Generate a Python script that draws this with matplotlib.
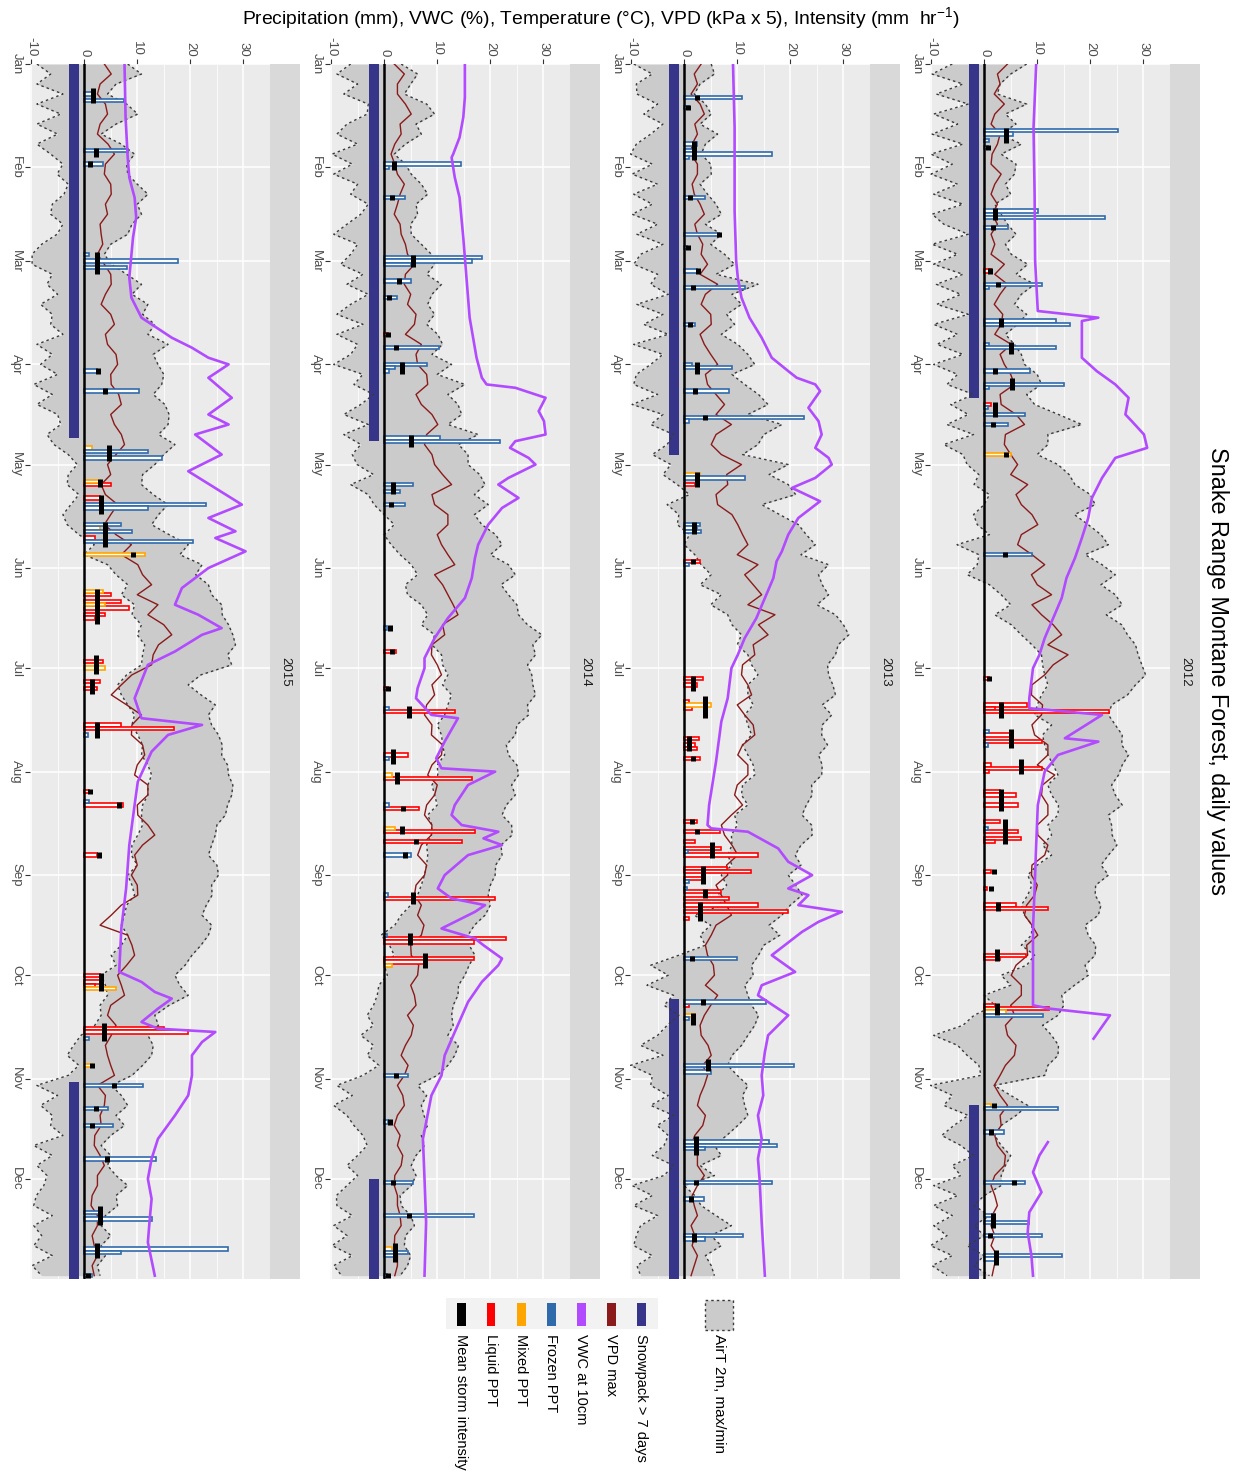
import numpy as np
import matplotlib
matplotlib.use("Agg")
import matplotlib.pyplot as plt
from matplotlib.patches import Rectangle

plt.rcParams['font.family'] = ['Liberation Sans', 'DejaVu Sans']
plt.rcParams['mathtext.fontset'] = 'custom'
plt.rcParams['mathtext.rm'] = 'Liberation Sans'
plt.rcParams['mathtext.it'] = 'Liberation Sans'
plt.rcParams['mathtext.bf'] = 'Liberation Sans'

# ---------------------------------------------------------------- data
YEARS = [2012, 2013, 2014, 2015]
MONTHS = ['Jan', 'Feb', 'Mar', 'Apr', 'May', 'Jun',
          'Jul', 'Aug', 'Sep', 'Oct', 'Nov', 'Dec']
MONTH_START = [1, 32, 60, 91, 121, 152, 182, 213, 244, 274, 305, 335]
VALUE_TICKS = [-10, 0, 10, 20, 30]

# sample days (day of year) for air temperature and VPD
TDAYS = list(range(1, 365, 3))

# --- 2012  (one line per month)
TMIN_2012 = [-6.0, -9.8, -4.0, -9.0, -3.0, -9.5, -5.0, -9.8, -4.0, -10.0, -6.0,
             -10.0, -5.0, -9.5, -4.0, -9.8, -7.6, -3.0, -9.8, -5.0,
             -9.5, -4.0, -9.0, -4.4, -8.9, -3.0, -9.5, -5.0, -8.9, -4.0,
             -9.5, -5.0, -7.0, -2.0, -6.3, -3.0, -7.0, -2.0, -7.6, -4.0,
             -3.2, -1.0, -1.9, 1.0, 0.0, -2.0, -1.3, 1.0, -5.1, -1.0, -1.3,
             -3.2, 1.0, 3.2, 5.0, 2.0, 5.1, 7.0, 9.0, 10.8, 11.0,
             11.4, 12.0, 10.8, 10.0, 9.5, 12.7, 11.0, 11.4, 12.0, 13.0,
             13.9, 12.0, 12.7, 14.0, 13.9, 12.0, 12.7, 11.0, 12.7, 10.0,
             8.2, 9.0, 8.2, 7.0, 7.6, 9.0, 8.9, 7.0, 9.5, 8.0,
             3.2, 5.0, 0.0, 2.0, -1.9, -4.0, -9.5, -5.0, -3.2, -1.0, -0.6,
             -10.1, -6.0, -7.6, -3.0, -5.7, -8.0, -4.4, -2.0, -6.0, -4.4,
             -9.5, -5.0, -9.5, -6.0, -9.5, -7.0, -10.1, -6.0, -9.8, -7.0]
TMAX_2012 = [8.0, 5.0, 3.0, 2.5, 8.0, 4.0, 6.0, 3.0, 7.0, 3.2, 6.0,
             5.7, 4.0, 5.0, 2.0, 3.2, 4.4, 6.0, 4.0, 5.1,
             8.2, 6.0, 9.5, 7.0, 5.7, 8.0, 6.3, 4.0, 5.7, 7.0,
             7.6, 10.0, 10.8, 8.0, 9.5, 14.0, 18.4, 12.0, 12.0, 10.0,
             13.9, 16.0, 17.1, 20.0, 20.9, 17.0, 19.6, 22.0, 23.4, 19.0, 22.2,
             24.7, 22.0, 24.7, 26.0, 23.0, 25.9, 27.0, 28.5, 29.0, 29.7,
             30.4, 28.5, 27.0, 24.0, 23.4, 24.7, 26.0, 25.9, 27.2, 26.0,
             25.3, 24.0, 24.7, 26.0, 23.4, 24.0, 24.1, 25.0, 23.4, 22.0,
             23.4, 21.0, 20.9, 22.0, 21.5, 19.0, 19.6, 21.0, 20.9, 19.0,
             19.6, 17.0, 14.6, 15.0, 13.9, 11.0, 12.7, 14.0, 13.9, 12.0, 11.4,
             1.9, 5.0, 8.2, 6.0, 3.2, 2.0, 3.2, 5.0, 4.0, 3.2,
             3.2, 0.0, -1.9, 1.0, -1.9, 0.0, -3.2, 0.0, -1.9, 1.0]
VPD_2012 = [4.4, 2.5, 3.0, 1.9, 3.8, 2.0, 1.3, 3.0, 2.5, 1.5, 1.3,
            3.2, 2.0, 1.3, 2.5, 1.5, 2.5, 1.3, 2.0, 1.3,
            3.8, 2.0, 4.4, 3.0, 1.9, 3.5, 3.2, 2.0, 5.1, 3.0,
            3.8, 5.0, 5.7, 3.0, 3.2, 6.0, 7.6, 4.0, 3.8, 5.0,
            6.3, 5.0, 8.2, 6.0, 7.0, 9.0, 10.1, 7.0, 6.3, 9.0, 11.4,
            8.9, 10.0, 12.7, 9.0, 10.8, 13.0, 14.6, 12.0, 15.8, 13.0,
            11.4, 9.0, 8.9, 11.0, 10.8, 9.0, 9.5, 12.0, 12.0, 10.0,
            13.3, 11.0, 10.8, 12.0, 12.0, 10.0, 10.1, 12.0, 11.4, 9.0,
            8.9, 10.0, 9.5, 8.0, 7.6, 9.0, 10.1, 8.0, 8.2, 6.0,
            5.1, 7.0, 7.0, 5.0, 5.7, 4.0, 4.4, 6.0, 5.7, 4.0, 3.0,
            1.9, 3.0, 4.4, 3.0, 3.2, 2.0, 2.5, 4.0, 3.8, 2.0,
            1.3, 2.0, 2.5, 1.5, 1.3, 2.0, 1.3, 2.5, 1.9, 1.5]
VWC_DAY_2012 = [1, 20, 40, 60, 75, 77, 78, 89, 93, 97, 101, 106, 108, 112, 116, 119, 125, 131,
                137, 143, 149, 155, 161, 167, 173, 178, 182, 191, 194, 196, 203, 204, 208, 213,
                223, 235, 248, 260, 273, 283, 284, 286, 293, 300, 324, 328, 333, 339, 345, 351,
                358, 364]
VWC_2012 = [9.8, 9.3, 9.5, 9.6, 10.1, 21.5, 18.4, 18.4, 21.2, 24.7, 27.2, 26.6, 27.8, 30.1, 30.7,
            24.7, 22.2, 20.3, 19.6, 18.4, 17.1, 15.5, 14.6, 13.0, 11.4, 10.4, 9.2, 8.5, 8.5, 22.2,
            15.2, 21.5, 13.9, 11.4, 10.1, 9.8, 9.5, 9.2, 9.2, 9.2, 12.3, 23.7, 20.6, None, 12.0,
            10.4, 9.2, 10.8, 8.5, 8.2, 8.9, 9.2]
PPT_DAY_2012 = [21, 22, 24, 26, 45, 46, 47, 50, 63, 67, 68, 78, 79, 85, 86, 93, 97, 98, 103, 104,
                106, 109, 118, 148, 185, 193, 194, 195, 201, 202, 204, 205, 211, 212, 213, 219,
                220, 223, 228, 230, 231, 233, 234, 243, 248, 253, 254, 268, 269, 283, 284, 285,
                286, 313, 314, 321, 336, 346, 348, 352, 358, 359]
PPT_MM_2012 = [25.3, 5.4, 1.0, 0.8, 10.1, 2.0, 22.8, 4.4, 1.2, 10.8, 1.0, 13.5, 16.1, 1.0, 13.6,
               8.6, 15.0, 1.0, 1.2, 0.8, 7.6, 4.4, 5.0, 9.0, 1.0, 8.0, 2.0, 23.5, 1.0, 5.1, 10.8,
               0.8, 1.3, 10.8, 1.0, 3.0, 6.0, 6.3, 3.0, 0.7, 6.3, 7.0, 2.0, 1.2, 0.6, 6.0, 12.1,
               7.9, 3.0, 2.0, 12.3, 4.2, 11.0, 1.2, 13.9, 3.8, 7.6, 2.0, 8.5, 10.8, 14.6, 2.0]
PPT_TYPE_2012 = ['F', 'F', 'F', 'F', 'F', 'F', 'F', 'F', 'L', 'F', 'F', 'F', 'F', 'F', 'F',
                 'F', 'F', 'F', 'L', 'F', 'F', 'F', 'M', 'F', 'L', 'L', 'L', 'L', 'F', 'L', 'L',
                 'F', 'L', 'L', 'L', 'L', 'L', 'L', 'L', 'F', 'L', 'L', 'L', 'L', 'L', 'L', 'L',
                 'L', 'L', 'L', 'L', 'M', 'F', 'M', 'F', 'F', 'F', 'F', 'F', 'F', 'F', 'F']
STORM_START_2012 = [21, 26, 45, 50, 63, 67, 78, 85, 93, 96, 103, 109, 118, 148, 185, 193, 201,
                    210, 219, 228, 243, 248, 253, 267, 283, 313, 321, 336, 346, 352, 357]
STORM_END_2012 = [24, 26, 47, 50, 63, 67, 79, 87, 93, 98, 106, 109, 118, 148, 185, 196, 205,
                  213, 224, 234, 243, 248, 254, 269, 285, 313, 321, 336, 349, 352, 360]
STORM_INT_2012 = [4.1, 0.8, 2.0, 1.6, 1.1, 2.7, 3.2, 5.0, 2.0, 5.2, 2.1, 1.7, 4.1, 4.0, 1.0, 3.2,
                  5.1, 7.0, 3.2, 3.9, 1.9, 1.3, 2.7, 2.5, 2.5, 1.9, 1.3, 5.7, 1.6, 1.1, 2.2]
SNOW_2012 = [(1, 101), (313, 365)]

# --- 2013
TMIN_2013 = [-9.5, -6.0, -9.0, -8.9, -5.0, -7.6, -4.0, -6.3, -9.0, -10.1, -6.0,
             -9.8, -5.0, -9.5, -6.0, -9.8, -5.0, -8.9, -4.0, -8.2,
             -9.5, -5.0, -6.3, -3.0, -8.9, -4.0, -7.6, -3.0, -9.5, -4.0,
             -6.3, -9.0, -9.5, -5.0, -9.8, -4.0, -6.3, -2.0, -3.2, -6.0,
             -2.5, -4.0, -1.3, 1.0, -3.2, -1.0, -1.3, 1.0, 0.0, 2.0, 3.2,
             5.1, 3.0, 7.0, 5.0, 8.2, 9.0, 10.8, 10.0, 12.0, 12.7,
             13.9, 12.0, 12.0, 13.0, 11.4, 12.0, 12.7, 11.0, 12.0, 13.0,
             13.3, 11.0, 10.8, 12.0, 9.5, 10.0, 8.9, 9.0, 8.2, 9.0,
             7.0, 8.0, 6.3, 7.0, 1.9, 5.0, 3.0, 4.0, -1.0, -6.3,
             -3.0, -7.0, -2.0, -3.8, -1.0, -3.2, -5.0, -8.2, -4.0, -10.1, -6.0,
             -6.3, -3.0, -6.3, -2.0, -5.1, -3.0, -3.8, -6.0, -2.0, -3.8,
             -9.8, -6.0, -9.5, -5.0, -8.2, -9.0, -9.5, -6.0, -8.9, -8.2]
TMAX_2013 = [5.1, 5.7, 3.0, 1.9, 4.0, 5.1, 3.0, 6.3, 4.0, 3.2, 5.0,
             5.1, 3.0, 4.4, 6.0, 7.0, 4.0, 7.0, 5.0, 7.6,
             9.5, 6.0, 13.9, 9.0, 10.8, 8.0, 9.5, 7.0, 10.1, 12.0,
             13.3, 9.0, 11.4, 14.0, 15.8, 12.0, 18.4, 15.0, 13.9, 11.0,
             19.6, 16.0, 19.6, 21.0, 14.6, 18.0, 21.5, 23.0, 24.7, 22.0, 27.2,
             25.3, 26.0, 27.2, 25.0, 28.5, 30.0, 31.0, 29.0, 28.5, 27.0,
             27.2, 28.0, 28.5, 26.0, 27.8, 26.0, 25.9, 27.0, 25.3, 26.0,
             25.9, 24.0, 24.1, 23.0, 22.2, 24.0, 24.1, 22.0, 20.9, 22.0,
             19.6, 21.0, 22.2, 20.0, 18.4, 16.0, 18.0, 15.0, 14.0, 12.7,
             13.0, 11.4, 12.0, 12.7, 14.0, 13.3, 12.0, 10.8, 9.0, 8.2, 10.0,
             12.0, 11.0, 11.4, 12.0, 10.1, 8.0, 5.7, 7.0, 3.0, 5.7,
             0.0, 2.0, 3.2, 6.0, 8.9, 5.0, 7.0, 4.0, 5.1, 5.7]
VPD_2013 = [3.2, 1.9, 2.5, 1.3, 3.0, 3.8, 2.0, 2.5, 1.5, 1.3, 2.5,
            2.5, 1.5, 1.9, 3.0, 3.8, 2.0, 2.5, 3.5, 3.2,
            4.4, 3.0, 6.3, 4.0, 3.2, 5.0, 5.1, 3.0, 3.8, 5.0,
            6.3, 4.0, 4.4, 6.0, 7.6, 6.0, 8.9, 6.0, 5.1, 7.0,
            10.8, 8.0, 8.2, 6.0, 6.3, 9.0, 10.1, 11.0, 12.0, 10.0, 13.9,
            11.4, 13.0, 14.6, 12.0, 17.1, 14.0, 15.8, 13.0, 13.3, 11.0,
            10.8, 12.0, 12.7, 10.0, 11.4, 13.0, 13.3, 11.0, 10.1, 12.0,
            12.0, 10.0, 9.5, 11.0, 8.9, 7.0, 7.6, 9.0, 10.1, 8.0,
            8.2, 6.0, 7.0, 8.0, 8.9, 6.0, 5.1, 4.0, 4.4, 5.5,
            5.7, 4.0, 6.3, 5.0, 3.8, 3.0, 3.2, 4.5, 5.1, 3.5, 4.4,
            3.8, 3.0, 2.5, 4.0, 3.5, 2.0, 1.3, 2.5, 2.5, 3.8,
            2.5, 1.5, 1.9, 2.5, 1.3, 2.0, 1.5, 2.5, 1.9, 1.3]
VWC_DAY_2013 = [1, 20, 45, 60, 65, 71, 77, 83, 89, 93, 95, 97, 99, 104, 108, 112, 116, 119, 121,
                125, 128, 132, 137, 142, 147, 150, 155, 161, 167, 173, 178, 182, 191, 198, 210,
                223, 229, 230, 231, 236, 240, 244, 248, 250, 253, 255, 258, 261, 268, 273, 277,
                280, 286, 292, 297, 304, 310, 316, 323, 329, 335, 348, 364]
VWC_2013 = [9.2, 9.5, 9.5, 9.8, 10.1, 10.8, 12.3, 14.6, 16.5, 19.6, 21.2, 24.7, 25.6, 23.4, 25.3,
            25.9, 24.7, 27.2, 27.8, 24.7, 20.3, 25.6, 21.5, 19.6, 18.4, 17.4, 16.8, 15.2, 13.6,
            11.4, 10.1, 8.9, 8.2, 7.0, 6.0, 4.7, 4.4, 5.1, 12.0, 17.7, 19.6, 24.1, 19.6, 23.4,
            21.5, 29.7, 25.3, 22.2, 16.5, 20.9, 14.6, 13.9, 19.6, 15.8, 15.2, 14.6, 14.9, 13.9,
            14.6, 13.9, 14.2, 14.6, 15.2]
PPT_DAY_2013 = [11, 14, 25, 27, 28, 29, 41, 52, 56, 63, 68, 79, 91, 92, 99, 107, 108, 124, 125,
                127, 139, 140, 141, 150, 151, 185, 187, 192, 193, 194, 203, 205, 206, 209, 228,
                231, 234, 236, 237, 238, 242, 243, 245, 246, 248, 249, 251, 253, 255, 257, 269,
                282, 283, 286, 287, 301, 303, 324, 325, 326, 336, 341, 352, 353]
PPT_MM_2013 = [10.8, 1.0, 2.5, 2.0, 16.5, 1.0, 4.0, 6.5, 0.6, 2.5, 11.4, 2.0, 1.5, 9.0, 8.4, 22.5,
               1.0, 3.0, 11.4, 2.0, 3.0, 2.5, 3.2, 3.0, 1.0, 3.5, 2.5, 1.0, 5.0, 1.5, 2.8, 2.0,
               2.5, 3.0, 2.5, 6.7, 2.0, 7.0, 0.8, 13.9, 8.0, 12.6, 3.5, 1.0, 0.6, 7.0, 8.5, 14.0,
               19.6, 1.0, 10.0, 15.5, 1.0, 2.0, 1.0, 20.6, 5.0, 16.0, 17.5, 4.0, 16.5, 3.8, 11.0, 4.0]
PPT_TYPE_2013 = ['F', 'F', 'F', 'F', 'F', 'F', 'F', 'F', 'F', 'F', 'F', 'F', 'F', 'F', 'F', 'F',
                 'F', 'M', 'F', 'L', 'F', 'F', 'F', 'L', 'F', 'L', 'L', 'L', 'M', 'L', 'L', 'L',
                 'L', 'L', 'L', 'L', 'L', 'L', 'F', 'L', 'L', 'L', 'L', 'F', 'F', 'L', 'L', 'L',
                 'L', 'L', 'F', 'F', 'L', 'M', 'F', 'F', 'F', 'F', 'F', 'F', 'F', 'F', 'F', 'F']
STORM_START_2013 = [11, 14, 25, 26, 41, 52, 56, 63, 68, 79, 91, 99, 107, 124, 139, 150, 185, 191,
                    203, 209, 228, 231, 235, 242, 249, 253, 269, 282, 286, 300, 323, 336, 341, 352]
STORM_END_2013 = [11, 14, 25, 29, 41, 52, 56, 63, 68, 79, 93, 99, 107, 127, 141, 150, 188, 196,
                  206, 209, 228, 231, 238, 246, 250, 257, 269, 282, 288, 302, 327, 336, 341, 353]
STORM_INT_2013 = [2.5, 0.8, 1.8, 1.9, 1.1, 6.5, 0.8, 2.7, 1.6, 1.1, 2.5, 2.1, 3.9, 2.5, 1.9, 1.6,
                  1.6, 3.9, 0.9, 1.6, 1.4, 2.5, 5.2, 3.5, 3.9, 3.0, 1.4, 3.5, 1.6, 4.4, 2.2, 2.2,
                  1.3, 1.8]
SNOW_2013 = [(1, 118), (281, 365)]

# --- 2014
TMIN_2014 = [-6.3, -8.9, -5.0, -7.6, -3.0, -3.2, -7.0, -8.9, -5.0, -9.8, -6.0,
             -9.5, -5.0, -6.3, -3.0, -4.4, -7.0, -9.5, -5.0, -6.3,
             -8.2, -4.0, -7.0, -3.0, -6.3, -8.9, -4.0, -8.9, -5.0, -6.3,
             -9.5, -4.0, -5.7, -2.0, -4.4, -7.6, -3.0, -7.6, -4.4, -6.0,
             -5.1, -2.0, -6.3, -3.0, -1.9, 0.0, 1.9, 0.0, 1.3, 3.0, 5.1,
             6.3, 4.0, 4.4, 7.0, 8.2, 7.0, 9.5, 9.0, 10.8, 11.0,
             12.0, 11.0, 12.7, 12.0, 11.4, 10.0, 10.8, 11.0, 11.4, 10.0,
             10.1, 9.0, 9.5, 10.0, 8.2, 9.0, 8.9, 8.0, 8.2, 8.0,
             7.6, 7.0, 6.3, 5.0, 3.2, 2.0, -0.6, 1.0, 1.9, 0.0,
             0.6, -1.0, -1.3, -2.0, -3.2, -2.0, -4.4, -2.0, -3.2, -1.0, -4.0,
             -8.9, -6.0, -9.5, -7.0, -5.7, -4.0, -3.2, -5.0, -7.0, -5.0,
             -7.0, -9.0, -8.9, -6.0, -9.5, -7.0, -9.8, -6.0, -9.5, -8.0]
TMAX_2014 = [3.2, 6.3, 5.0, 3.8, 8.0, 9.5, 6.0, 7.0, 4.0, 1.9, 4.0,
             5.1, 7.0, 8.2, 6.0, 6.3, 5.0, 5.1, 7.0, 8.9,
             9.5, 8.0, 10.8, 9.0, 8.2, 9.5, 8.0, 10.1, 11.0, 9.0,
             12.7, 10.0, 15.2, 12.0, 13.9, 14.6, 12.0, 17.7, 14.0, 15.8,
             15.8, 18.0, 19.0, 17.0, 19.6, 17.0, 18.4, 21.0, 22.2, 20.0, 23.4,
             24.7, 22.0, 23.4, 25.0, 25.3, 27.0, 29.7, 28.0, 28.5, 27.0,
             27.8, 28.0, 28.5, 27.0, 27.2, 25.0, 24.7, 23.0, 23.4, 25.0,
             25.3, 24.0, 24.7, 23.0, 22.2, 24.0, 24.1, 22.0, 22.2, 21.0,
             20.9, 20.0, 19.6, 20.0, 19.0, 17.0, 15.8, 16.0, 17.1, 16.0,
             15.2, 14.0, 13.9, 13.0, 12.7, 13.0, 12.0, 14.0, 13.3, 12.0, 10.0,
             6.3, 8.0, 7.0, 7.5, 8.2, 7.0, 7.6, 6.0, 5.1, 6.0,
             5.1, 3.0, 3.2, 5.0, 5.7, 4.0, 3.8, 5.0, 4.4, 3.0]
VPD_2014 = [1.9, 3.8, 2.5, 2.5, 4.0, 5.1, 3.0, 3.2, 2.0, 1.3, 2.0,
            2.5, 3.8, 3.0, 2.5, 1.9, 3.0, 3.2, 4.0, 4.4,
            5.7, 4.0, 3.8, 5.0, 4.4, 6.0, 5.7, 4.0, 7.0, 6.0,
            6.3, 8.0, 8.2, 6.0, 7.0, 9.0, 10.1, 8.0, 7.6, 9.0,
            9.5, 11.0, 12.7, 9.0, 9.5, 12.0, 12.0, 10.0, 10.8, 12.0, 13.3,
            9.5, 11.0, 12.0, 13.0, 13.9, 11.0, 11.4, 9.0, 8.9, 10.0,
            10.8, 9.0, 9.5, 8.0, 7.6, 9.0, 8.9, 11.0, 10.8, 9.0,
            8.2, 10.0, 9.5, 8.0, 7.6, 9.0, 8.9, 7.0, 6.3, 8.0,
            7.6, 6.0, 5.7, 7.0, 6.3, 7.5, 7.0, 5.0, 5.1, 6.5,
            6.3, 5.0, 5.7, 6.0, 4.4, 5.5, 5.1, 4.0, 3.2, 4.5, 3.8,
            2.5, 3.5, 3.8, 2.5, 1.9, 3.0, 2.5, 3.5, 3.2, 2.0,
            1.9, 2.5, 2.5, 3.0, 3.2, 2.0, 1.9, 2.5, 2.5, 2.0]
VWC_DAY_2014 = [1, 11, 17, 23, 28, 29, 35, 41, 53, 65, 77, 89, 95, 97, 98, 100, 101, 105, 108,
                112, 114, 116, 119, 121, 125, 127, 131, 134, 139, 145, 149, 155, 161, 167, 173,
                179, 182, 188, 191, 196, 197, 204, 209, 212, 213, 217, 223, 226, 229, 231, 233,
                235, 238, 244, 248, 251, 253, 255, 260, 263, 265, 269, 271, 276, 282, 291, 298,
                304, 310, 323, 335, 348, 364]
VWC_2014 = [15.2, 15.2, 14.9, 14.2, 13.0, 12.7, 13.3, 14.2, 14.9, 15.5, 16.1, 17.4, 18.4, 19.3,
            24.7, 28.5, 30.4, 29.1, 30.1, 30.4, 24.7, 23.7, 27.2, 28.5, 23.4, 21.5, 25.3, 22.2,
            19.6, 17.7, 17.1, 16.5, 15.2, 12.0, 9.5, 7.6, 7.6, 6.3, 6.0, 8.9, 13.9, 11.4, 9.8,
            10.8, 20.9, 15.8, 13.3, 12.7, 14.6, 21.5, 18.7, 22.2, 15.8, 11.4, 10.1, 12.7, 19.0,
            17.1, 10.8, 17.1, 18.7, 22.2, 21.5, 18.4, 15.8, 13.3, 11.4, 10.8, 8.9, 7.3, 7.6, 7.9,
            7.6]
PPT_DAY_2014 = [31, 32, 41, 59, 60, 61, 66, 71, 82, 86, 91, 92, 93, 113, 114, 127, 129, 133, 170,
                177, 188, 194, 195, 208, 209, 214, 215, 223, 224, 230, 231, 234, 238, 250, 251,
                262, 263, 264, 269, 270, 271, 304, 318, 336, 346, 356, 357, 358, 364]
PPT_MM_2014 = [14.5, 1.0, 4.0, 18.4, 16.5, 5.0, 5.0, 2.5, 0.8, 10.4, 8.0, 2.0, 1.0, 10.5, 21.8,
               5.4, 3.0, 4.0, 0.5, 2.3, 0.8, 1.0, 13.3, 4.5, 1.0, 1.5, 16.5, 1.0, 6.5, 2.0, 17.1,
               14.6, 5.0, 0.7, 20.9, 0.5, 23.0, 17.0, 17.0, 8.0, 1.5, 4.4, 0.8, 5.4, 17.0, 1.5,
               4.4, 2.0, 0.6]
PPT_TYPE_2014 = ['F', 'F', 'F', 'F', 'F', 'F', 'F', 'F', 'L', 'F', 'F', 'F', 'F', 'F', 'F', 'F',
                 'F', 'F', 'F', 'L', 'L', 'F', 'L', 'L', 'F', 'M', 'L', 'F', 'L', 'M', 'L', 'L',
                 'F', 'F', 'L', 'F', 'L', 'L', 'L', 'L', 'M', 'F', 'F', 'F', 'F', 'M', 'F', 'F', 'F']
STORM_START_2014 = [31, 41, 59, 66, 71, 82, 86, 91, 113, 127, 133, 170, 177, 188, 194, 207, 214,
                    224, 230, 234, 238, 250, 262, 268, 304, 318, 336, 346, 355, 364]
STORM_END_2014 = [32, 41, 61, 66, 71, 82, 86, 93, 115, 129, 133, 170, 177, 188, 196, 210, 216,
                  224, 231, 234, 238, 252, 264, 271, 304, 318, 336, 346, 359, 364]
STORM_INT_2014 = [1.8, 1.4, 5.4, 2.8, 0.9, 0.8, 2.2, 3.3, 5.0, 1.6, 1.3, 1.1, 1.4, 0.8, 4.7, 1.6,
                  2.5, 3.5, 3.3, 6.0, 3.9, 5.4, 4.9, 7.7, 2.3, 1.1, 1.6, 4.7, 2.0, 0.8]
SNOW_2014 = [(1, 114), (335, 365)]

# --- 2015
TMIN_2015 = [-8.9, -6.3, -8.9, -4.0, -8.9, -4.4, -8.9, -5.0, -8.9, -6.3, -4.0,
             -5.1, -3.0, -3.8, -6.0, -6.3, -4.0, -5.1, -8.0, -9.8,
             -9.8, -6.0, -7.0, -5.0, -8.2, -6.0, -6.3, -4.0, -8.9, -6.0,
             -8.2, -5.0, -9.5, -6.0, -8.9, -5.0, -4.4, -7.0, -5.7, -3.0,
             -1.3, -3.0, -3.2, -1.0, -2.5, -4.0, -3.2, -1.0, 1.9, 0.0, 4.4,
             6.0, 8.2, 7.0, 9.5, 9.0, 10.8, 10.0, 11.4, 11.0, 10.8,
             8.0, 6.3, 7.0, 8.2, 9.5, 9.0, 10.1, 11.0, 10.8, 12.0,
             12.7, 12.0, 12.0, 11.0, 10.8, 11.0, 10.1, 9.0, 8.9, 10.0,
             8.2, 9.0, 9.5, 8.0, 7.6, 7.0, 8.2, 7.0, 5.1, 6.0,
             3.2, 4.0, 4.4, 3.0, 3.2, 2.0, -0.6, -2.0, -3.2, -1.0, -3.0,
             -8.9, -5.0, -8.2, -6.0, -6.3, -4.0, -9.5, -6.0, -8.9, -7.0,
             -7.6, -9.0, -9.5, -6.0, -9.5, -8.0, -9.5, -6.0, -9.8, -8.0]
TMAX_2015 = [8.2, 10.8, 6.0, 4.4, 8.0, 10.1, 6.0, 3.2, 7.0, 9.5, 8.0,
             8.2, 10.0, 12.0, 10.0, 10.8, 9.0, 8.2, 5.0, 3.8,
             5.1, 8.0, 10.8, 9.0, 12.0, 11.0, 13.3, 12.0, 15.8, 13.0,
             13.9, 15.0, 14.6, 13.0, 15.2, 16.0, 15.8, 14.0, 17.1, 15.0,
             13.3, 11.0, 10.8, 13.0, 15.8, 14.0, 12.7, 16.0, 19.6, 18.0, 22.2,
             21.0, 23.4, 24.0, 25.9, 26.0, 27.2, 28.0, 28.5, 27.0, 27.8,
             22.0, 19.6, 22.0, 24.7, 23.4, 24.0, 25.3, 26.0, 25.9, 27.0,
             27.2, 28.0, 27.8, 27.0, 26.6, 25.0, 24.7, 24.0, 23.4, 25.0,
             25.3, 24.0, 24.1, 23.0, 22.2, 24.0, 23.4, 22.0, 20.3, 19.0,
             17.1, 18.0, 19.6, 16.0, 13.3, 14.0, 12.0, 13.0, 12.7, 11.0, 9.0,
             5.1, 7.0, 8.2, 6.0, 7.6, 5.0, 3.2, 5.0, 4.4, 6.0,
             8.2, 6.0, 6.3, 4.0, 3.2, 5.0, 3.2, 4.0, 2.5, 3.0]
VPD_2015 = [3.8, 5.1, 3.0, 2.5, 4.0, 4.4, 3.0, 2.5, 4.5, 5.7, 4.0,
            3.8, 5.0, 5.1, 4.0, 4.4, 3.0, 3.2, 3.5, 2.5,
            3.8, 5.0, 5.1, 4.0, 3.2, 5.0, 5.7, 4.0, 4.4, 6.0,
            6.3, 5.0, 5.1, 6.5, 7.0, 5.0, 5.7, 7.0, 7.6, 6.0,
            4.4, 5.0, 3.2, 4.0, 6.3, 5.0, 3.8, 6.0, 8.9, 7.0, 10.1,
            11.0, 12.7, 10.0, 13.9, 12.0, 15.0, 16.5, 14.0, 13.0, 12.7,
            9.0, 7.0, 5.1, 8.0, 10.8, 9.0, 8.9, 11.0, 11.4, 10.0,
            9.5, 12.0, 12.0, 10.0, 10.1, 12.0, 13.3, 11.0, 9.5, 10.0,
            8.9, 10.0, 10.1, 7.0, 5.1, 3.0, 8.2, 9.0, 9.5, 8.0,
            6.3, 7.0, 7.6, 5.0, 4.4, 6.0, 5.1, 4.0, 4.4, 5.0, 5.7,
            2.5, 4.0, 3.8, 3.0, 3.2, 2.0, 1.9, 3.0, 3.8, 2.5,
            2.5, 1.5, 1.3, 2.5, 2.5, 1.5, 1.9, 2.5, 1.5, 1.9]
VWC_DAY_2015 = [1, 17, 29, 35, 41, 47, 53, 65, 71, 77, 79, 83, 86, 89, 91, 95, 101, 106, 109, 112,
                118, 123, 133, 137, 141, 143, 147, 152, 158, 163, 166, 170, 172, 177, 181, 191,
                197, 199, 202, 207, 216, 223, 235, 248, 260, 273, 276, 279, 281, 284, 288, 290,
                291, 294, 298, 304, 310, 316, 323, 329, 335, 341, 348, 354, 364]
VWC_2015 = [7.6, 7.8, 8.2, 8.5, 9.5, 9.8, 9.2, 8.5, 8.9, 10.8, 12.7, 16.5, 20.3, 23.4, 27.2, 23.4,
            27.8, 23.4, 27.2, 20.9, 25.9, 19.6, 29.7, 23.4, 28.5, 24.7, 30.4, 23.4, 18.4, 17.1,
            21.5, 25.9, 22.2, 17.1, 12.0, 9.5, 10.8, 22.2, 15.8, 12.7, 10.1, 9.5, 8.5, 7.9, 7.0,
            6.6, 10.8, 13.3, 16.5, 13.9, 10.8, 13.9, 24.7, 22.2, 20.3, 20.3, 19.6, 17.1, 13.9,
            12.7, 12.0, 12.7, 12.3, 12.0, 13.3]
PPT_DAY_2015 = [10, 12, 27, 31, 58, 60, 62, 93, 99, 116, 117, 119, 126, 127, 131, 133, 134, 139,
                140, 141, 143, 144, 148, 159, 160, 162, 163, 164, 166, 167, 180, 182, 186, 188,
                199, 200, 202, 219, 222, 223, 238, 274, 276, 277, 278, 290, 291, 293, 301, 307,
                314, 319, 329, 345, 347, 356, 357, 364]
PPT_MM_2015 = [2.0, 7.5, 8.2, 3.5, 1.0, 17.7, 8.0, 2.5, 10.4, 1.5, 12.0, 14.6, 3.0, 5.0, 3.0, 23.0,
               12.0, 7.0, 3.0, 9.0, 2.0, 20.5, 11.4, 3.5, 5.0, 7.0, 4.0, 8.5, 4.0, 2.0, 3.5, 4.0,
               3.0, 2.5, 7.0, 17.0, 0.8, 1.0, 1.0, 7.4, 2.5, 3.0, 3.0, 2.0, 6.0, 15.0, 19.6, 1.0,
               1.5, 11.0, 4.4, 5.5, 13.5, 3.0, 12.7, 27.0, 7.0, 1.5]
PPT_TYPE_2015 = ['F', 'F', 'F', 'F', 'F', 'F', 'F', 'F', 'F', 'M', 'F', 'F', 'M', 'L', 'L', 'F',
                 'F', 'F', 'M', 'F', 'L', 'F', 'M', 'M', 'L', 'L', 'M', 'L', 'L', 'L', 'L', 'M',
                 'L', 'L', 'L', 'L', 'F', 'L', 'F', 'L', 'L', 'L', 'L', 'L', 'M', 'L', 'L', 'F',
                 'M', 'F', 'F', 'F', 'F', 'F', 'F', 'F', 'F', 'F']
STORM_START_2015 = [9, 27, 31, 58, 93, 99, 116, 126, 131, 139, 148, 159, 179, 186, 199, 219, 223,
                    238, 274, 289, 301, 307, 314, 319, 329, 344, 355, 364]
STORM_END_2015 = [12, 28, 31, 63, 93, 99, 119, 127, 135, 145, 148, 168, 183, 189, 202, 219, 223,
                  238, 278, 293, 301, 307, 314, 319, 329, 348, 358, 364]
STORM_INT_2015 = [1.6, 2.2, 1.1, 2.4, 2.7, 3.9, 4.7, 3.0, 3.2, 4.0, 9.2, 2.5, 2.3, 1.4, 2.5, 1.1,
                  6.5, 2.8, 3.2, 3.7, 1.5, 5.6, 2.3, 1.5, 4.3, 3.0, 2.4, 0.8]
SNOW_2015 = [(1, 113), (306, 365)]

# ---------------------------------------------------------------- styling
C_RIBBON = '#CBCBCB'
C_RIBBON_EDGE = '#3A3A3A'
C_SNOW = '#36358A'
C_VPD = '#8B1A1A'
C_VWC = '#B24BFF'
C_FROZEN = '#2F6AAB'
C_MIXED = '#FFA500'
C_LIQUID = '#FF0000'
C_STORM = '#000000'
PPT_COLORS = {'F': C_FROZEN, 'M': C_MIXED, 'L': C_LIQUID}

W, H = 1241, 1477
fig = plt.figure(figsize=(W / 100, H / 100), dpi=100, facecolor='white')


def fx(px):
    return px / W


def fy(py):
    return 1 - py / H


YEAR_DATA = {
    2012: (TMIN_2012, TMAX_2012, VPD_2012, VWC_DAY_2012, VWC_2012, PPT_DAY_2012, PPT_MM_2012,
           PPT_TYPE_2012, STORM_START_2012, STORM_END_2012, STORM_INT_2012, SNOW_2012),
    2013: (TMIN_2013, TMAX_2013, VPD_2013, VWC_DAY_2013, VWC_2013, PPT_DAY_2013, PPT_MM_2013,
           PPT_TYPE_2013, STORM_START_2013, STORM_END_2013, STORM_INT_2013, SNOW_2013),
    2014: (TMIN_2014, TMAX_2014, VPD_2014, VWC_DAY_2014, VWC_2014, PPT_DAY_2014, PPT_MM_2014,
           PPT_TYPE_2014, STORM_START_2014, STORM_END_2014, STORM_INT_2014, SNOW_2014),
    2015: (TMIN_2015, TMAX_2015, VPD_2015, VWC_DAY_2015, VWC_2015, PPT_DAY_2015, PPT_MM_2015,
           PPT_TYPE_2015, STORM_START_2015, STORM_END_2015, STORM_INT_2015, SNOW_2015),
}

PANEL_TOP, PANEL_BOTTOM = 64, 1279
PANEL_W, STRIP_W = 240, 30

# panels run right-to-left from 2012 to 2015; dates run top-to-bottom
for k, year in enumerate(reversed(YEARS)):
    (tmin, tmax, vpd, vwc_day, vwc, p_day, p_mm, p_type,
     s_start, s_end, s_int, snow) = YEAR_DATA[year]
    left = 30 + 300 * k
    ax = fig.add_axes([fx(left), fy(PANEL_BOTTOM), PANEL_W / W,
                       (PANEL_BOTTOM - PANEL_TOP) / H])
    ax.set_facecolor('#EBEBEB')
    ax.set_xlim(-10.2, 35.0)
    ax.set_ylim(365, 1)
    for s in ax.spines.values():
        s.set_visible(False)

    # grid
    ax.set_axisbelow(True)
    for v in [-5, 5, 15, 25]:
        ax.axvline(v, color='white', lw=0.55, zorder=0.2)
    ax.grid(True, which='major', color='white', lw=1.1, zorder=0.3)

    # axes ticks
    ax.xaxis.tick_top()
    ax.set_xticks(VALUE_TICKS)
    ax.set_xticklabels([str(v) for v in VALUE_TICKS])
    ax.tick_params(axis='x', top=True, bottom=False, labeltop=True, labelbottom=False,
                   length=3.5, width=0.8, color='#333333', labelcolor='#4D4D4D',
                   labelsize=9.5, pad=2, labelrotation=-90)
    ax.set_yticks(MONTH_START)
    ax.set_yticklabels(MONTHS, rotation=-90, va='center')
    ax.tick_params(axis='y', length=3.5, width=0.8, color='#333333', labelcolor='#4D4D4D',
                   labelsize=9.5, pad=2)

    n = min(len(TDAYS), len(tmin), len(tmax))
    days = TDAYS[:n]

    # air temperature ribbon
    ax.fill_betweenx(days, tmin[:n], tmax[:n], color=C_RIBBON, lw=0, zorder=1)

    # snowpack bars
    for s0, s1 in snow:
        ax.fill_betweenx([s0, s1], -2.9, -0.9, color=C_SNOW, lw=0, zorder=1.5)

    ax.plot(tmin[:n], days, color=C_RIBBON_EDGE, lw=1.0, ls=(0, (1.8, 2.2)), zorder=2)
    ax.plot(tmax[:n], days, color=C_RIBBON_EDGE, lw=1.0, ls=(0, (1.8, 2.2)), zorder=2)

    # VPD max
    m = min(len(TDAYS), len(vpd))
    ax.plot(vpd[:m], TDAYS[:m], color=C_VPD, lw=1.0, zorder=3)

    # precipitation by phase
    p_day = np.array(p_day)
    p_mm = np.array(p_mm)
    p_type = np.array(p_type)
    for t in ['L', 'M', 'F']:
        sel = p_type == t
        ax.barh(p_day[sel], p_mm[sel], height=1.0, left=0, color='white',
                edgecolor=PPT_COLORS[t], linewidth=1.2, zorder=4)

    # zero line
    ax.axvline(0, color='black', lw=1.8, zorder=4.5)

    # soil moisture
    vwc_arr = np.array([np.nan if v is None else v for v in vwc], dtype=float)
    ax.plot(vwc_arr, vwc_day, color=C_VWC, lw=1.9, zorder=5)

    # mean storm intensity
    for a, b, v in zip(s_start, s_end, s_int):
        ax.plot([v, v], [a - 0.8, b + 0.8], color=C_STORM, lw=3.6,
                solid_capstyle='butt', zorder=6)

    # facet strip
    sx = fig.add_axes([fx(left + PANEL_W), fy(PANEL_BOTTOM), STRIP_W / W,
                       (PANEL_BOTTOM - PANEL_TOP) / H])
    sx.set_facecolor('#D9D9D9')
    sx.set_xticks([])
    sx.set_yticks([])
    for s in sx.spines.values():
        s.set_visible(False)
    sx.text(0.5, 0.5, str(year), rotation=-90, ha='center', va='center',
            fontsize=9.5, color='#1A1A1A', transform=sx.transAxes)

# title and axis label
fig.text(fx(1218), fy(671), 'Snake Range Montane Forest, daily values', rotation=-90,
         ha='center', va='center', fontsize=16.8, color='black')
fig.text(fx(601), fy(18),
         r'Precipitation (mm), VWC (%), Temperature ($\degree$C), VPD (kPa x 5), '
         r'Intensity (mm  hr$^{-1}$)',
         ha='center', va='center', fontsize=13.9, color='black')

# legend
fig.add_artist(Rectangle((fx(705), fy(1330)), 28 / W, 30 / H, transform=fig.transFigure,
                         facecolor=C_RIBBON, edgecolor=C_RIBBON_EDGE, lw=1.0,
                         ls=(0, (1.8, 2.2))))
fig.text(fx(719), fy(1334), 'AirT 2m, max/min', rotation=-90, ha='center', va='top',
         fontsize=11, color='black')
fig.add_artist(Rectangle((fx(446), fy(1329)), 212 / W, 31 / H, transform=fig.transFigure,
                         facecolor='#F2F2F2', edgecolor='none'))
LEGEND_LABELS = ['Snowpack > 7 days', 'VPD max', 'VWC at 10cm', 'Frozen PPT',
                 'Mixed PPT', 'Liquid PPT', 'Mean storm intensity']
LEGEND_COLORS = [C_SNOW, C_VPD, C_VWC, C_FROZEN, C_MIXED, C_LIQUID, C_STORM]
for i, (lab, col) in enumerate(zip(LEGEND_LABELS, LEGEND_COLORS)):
    cx = 641 - 30 * i
    fig.add_artist(Rectangle((fx(cx - 4.5), fy(1326)), 9 / W, 23 / H,
                             transform=fig.transFigure, facecolor=col, edgecolor='none'))
    fig.text(fx(cx), fy(1334), lab, rotation=-90, ha='center', va='top',
             fontsize=10.5, color='black')

fig.savefig('out.png', dpi=100, facecolor='white')
